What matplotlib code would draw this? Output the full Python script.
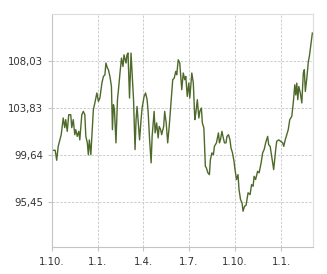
import matplotlib
matplotlib.use("Agg")
import matplotlib.pyplot as plt

# day offsets from 1.10. (first tick) and values
days = [0, 7, 10, 13, 19, 23, 26, 28, 31, 34, 38, 40, 43, 46, 48, 51, 54, 56, 60, 63,
        66, 68, 71, 73, 75, 78, 80, 83, 86, 90, 93, 96, 100, 103, 106, 108, 111, 113, 116, 119,
        121, 123, 125, 128, 131, 133, 136, 139, 142, 144, 148, 150, 152, 155, 158, 160, 163, 166, 168, 170,
        172, 175, 178, 180, 184, 187, 190, 192, 195, 198, 200, 204, 206, 209, 212, 214, 217, 219, 223, 225,
        228, 231, 234, 237, 241, 244, 247, 249, 252, 255, 257, 259, 262, 265, 267, 270, 273, 275, 279, 282,
        285, 287, 290, 293, 295, 298, 300, 303, 306, 308, 311, 314, 316, 319, 322, 324, 328, 332, 334, 336,
        339, 341, 344, 347, 349, 352, 355, 357, 360, 363, 365, 368, 371, 373, 376, 379, 381, 384, 387, 391,
        395, 398, 401, 403, 406, 410, 413, 417, 420, 423, 426, 430, 432, 435, 439, 442, 446, 448, 452, 456,
        460, 462, 465, 468, 471, 474, 478, 481, 484, 486, 488, 490, 492, 495, 498, 501, 503, 505, 508, 511,
        513, 516, 519]
values = [100.05, 100.05, 99.16, 100.40, 101.44, 102.93, 102.07, 102.78, 101.74, 103.22, 103.22, 102.07, 102.78, 101.44, 101.89, 101.29, 101.74, 100.98, 103.22, 103.52,
          103.22, 101.29, 100.71, 99.66, 100.98, 99.66, 101.29, 103.67, 104.27, 105.16, 104.41, 104.71, 106.04, 106.63, 106.78, 107.83, 107.38, 107.23, 106.63, 105.74,
          101.89, 104.11, 103.67, 100.71, 104.56, 105.45, 106.94, 108.27, 107.52, 108.56, 107.83, 108.56, 108.72, 104.71, 108.72, 107.08, 104.56, 100.11, 102.78, 103.96,
          102.78, 100.98, 102.78, 103.82, 104.85, 105.16, 104.56, 103.52, 100.98, 98.93, 101.29, 103.52, 101.60, 102.49, 101.15, 102.18, 101.89, 101.44, 102.18, 103.52,
          102.49, 100.71, 102.18, 103.96, 106.34, 106.49, 107.08, 106.78, 108.12, 107.83, 106.63, 105.45, 106.94, 106.34, 106.63, 104.85, 106.04, 104.71, 106.94, 106.04,
          102.78, 103.38, 104.56, 102.93, 103.52, 103.82, 102.49, 102.04, 98.62, 98.48, 98.04, 97.88, 99.22, 99.82, 99.66, 100.40, 100.71, 101.60, 100.71, 100.98,
          101.74, 101.29, 100.71, 100.71, 101.29, 101.44, 100.98, 100.26, 99.82, 99.07, 98.33, 97.44, 97.88, 96.55, 95.66, 95.36, 94.62, 95.06, 95.15, 96.26,
          96.10, 96.99, 96.84, 97.73, 97.44, 98.18, 98.04, 98.93, 99.82, 100.11, 100.71, 101.29, 100.55, 100.40, 99.22, 98.33, 100.11, 100.85, 100.98, 100.85,
          100.71, 100.40, 100.98, 101.44, 101.89, 102.78, 103.07, 104.27, 105.89, 104.98, 106.04, 104.56, 105.74, 105.16, 104.27, 106.94, 107.23, 105.30, 106.49, 107.97,
          108.41, 109.45, 110.50]

x_ticks = [0, 92, 182, 273, 365, 457]
x_labels = ["1.10.", "1.1.", "1.4.", "1.7.", "1.10.", "1.1."]
y_ticks = [95.45, 99.64, 103.83, 108.03]
y_labels = ["95,45", "99,64", "103,83", "108,03"]

fig = plt.figure(figsize=(3.27, 2.74), dpi=100)
ax = fig.add_axes([0.158, 0.0974, 0.798, 0.8515])

ax.plot(days, values, color="#4e6a2a", linewidth=1.0, solid_joinstyle="round")

ax.set_xlim(0, 519.5)
ax.set_ylim(91.4, 112.2)
ax.set_xticks(x_ticks)
ax.set_xticklabels(x_labels)
ax.set_yticks(y_ticks)
ax.set_yticklabels(y_labels)

ax.grid(True, color="#cccccc", linestyle=(0, (2.5, 1.5)), linewidth=0.7)
ax.set_axisbelow(True)

for side in ["left", "bottom"]:
    ax.spines[side].set_color("#c4c4c4")
    ax.spines[side].set_linewidth(0.8)
for side in ["top", "right"]:
    ax.spines[side].set_color("#dcdcdc")
    ax.spines[side].set_linewidth(0.8)

ax.tick_params(axis="both", colors="#c4c4c4", labelcolor="#333333",
               labelsize=7.3, length=3, width=0.8, pad=3)
ax.tick_params(axis="x", pad=4)

fig.savefig("out.png", dpi=100, facecolor="white")
